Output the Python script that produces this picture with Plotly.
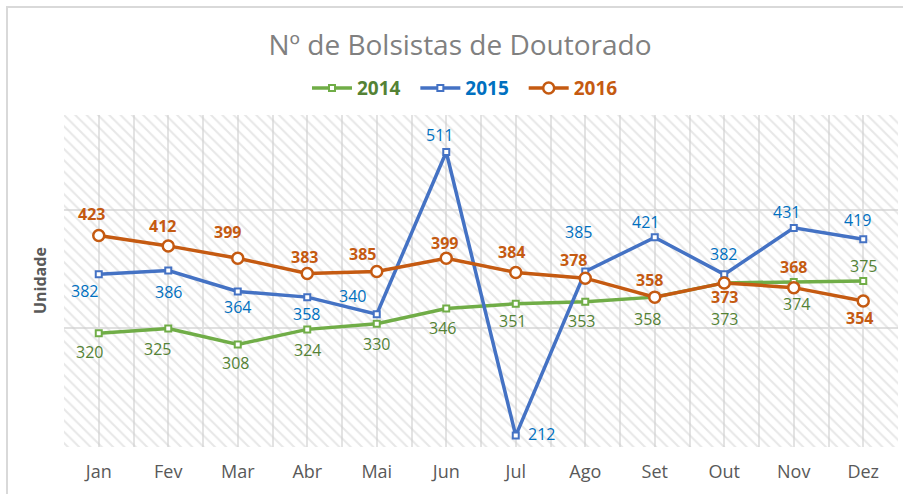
import plotly.graph_objects as go

# Monthly number of doctoral scholarship holders
months = ["Jan", "Fev", "Mar", "Abr", "Mai", "Jun", "Jul", "Ago", "Set", "Out", "Nov", "Dez"]
v2014 = [320, 325, 308, 324, 330, 346, 351, 353, 358, 373, 374, 375]
v2015 = [382, 386, 364, 358, 340, 511, 212, 385, 421, 382, 431, 419]
v2016 = [423, 412, 399, 383, 385, 399, 384, 378, 358, 373, 368, 354]

# label offsets in pixels (dx right, dy down) for each point
off2014 = [(-9, 19), (-11, 21), (-2, 18), (0, 21), (0, 20), (-4, 19),
           (-3, 17), (-4, 19), (-7, 22), (0, 36), (3, 22), (0, -15)]
off2015 = [(-14, 17), (0, 21), (0, 16), (-1, 17), (-24, -18), (-7, -17),
           (26, -2), (-7, -40), (-9, -15), (-1, -20), (-7, -16), (-6, -19)]
off2016 = [(-7, -21), (-6, -20), (-10, -26), (-3, -16), (-14, -18), (-2, -15),
           (-4, -20), (-12, -18), (-5, -17), (0, 14), (0, -21), (-4, 17)]

FONT = "Open Sans"
X_RANGE = [-0.5, len(months) - 0.5]
Y_RANGE = [200, 550]
xs = list(range(len(months)))

fig = go.Figure()

# hatched plot-area background
fig.add_trace(go.Scatter(
    x=[X_RANGE[0], X_RANGE[1], X_RANGE[1], X_RANGE[0], X_RANGE[0]],
    y=[Y_RANGE[0], Y_RANGE[0], Y_RANGE[1], Y_RANGE[1], Y_RANGE[0]],
    mode="none", fill="toself", fillcolor="rgba(0,0,0,0)",
    fillpattern=dict(shape="\\", size=8, solidity=0.25,
                     fgcolor="#cfcfcf", bgcolor="rgba(0,0,0,0)", fillmode="overlay"),
    hoverinfo="skip", showlegend=False,
))

series = [
    ("2014", v2014, "#70ad47", "#548235", "square", 6, False, off2014),
    ("2015", v2015, "#4472c4", "#0070c0", "square", 6, False, off2015),
    ("2016", v2016, "#c55a11", "#c55a11", "circle", 11, True, off2016),
]

annotations = []
for name, vals, lc, tc, sym, msize, bold, offs in series:
    label = f"<b>{name}</b>&nbsp;&nbsp;"
    fig.add_trace(go.Scatter(
        x=xs, y=vals, mode="lines+markers",
        name=f"<span style='color:{tc}'>{label}</span>",
        line=dict(color=lc, width=3.5),
        marker=dict(symbol=sym, size=msize, color="white",
                    line=dict(color=lc, width=2.5 if sym == "circle" else 2)),
    ))
    for i, v in enumerate(vals):
        dx, dy = offs[i]
        annotations.append(dict(
            x=i, y=v, xref="x", yref="y", showarrow=False,
            text=f"<b>{v}</b>" if bold else str(v),
            xshift=dx, yshift=-dy,
            font=dict(family=FONT, size=16, color=tc),
        ))

# y-axis title
annotations.append(dict(
    x=(40 - 64) / 834, y=0.5, xref="paper", yref="paper", showarrow=False,
    xanchor="center", yanchor="middle",
    text="<b>Unidade</b>", textangle=-90,
    font=dict(family=FONT, size=16, color="#595959"),
))

fig.update_layout(
    width=903, height=494,
    margin=dict(l=64, r=5, t=115, b=47),
    paper_bgcolor="white", plot_bgcolor="white",
    title=dict(text="Nº de Bolsistas de Doutorado", x=(460 - 0) / 903, xanchor="center",
               xref="container",
               y=1 - 45 / 494, yanchor="middle", yref="container",
               font=dict(family=FONT, size=28, color="#808080")),
    legend=dict(orientation="h", x=(470 - 64) / 834, xanchor="center", y=1.081,
                yanchor="middle",
                font=dict(family=FONT, size=19), itemwidth=40, traceorder="normal",
                bgcolor="rgba(0,0,0,0)"),
    annotations=annotations,
    showlegend=True,
    shapes=[dict(type="rect", xref="paper", yref="paper",
                 x0=(7 - 64) / 834, x1=(915 - 64) / 834,
                 y0=(447 - 510) / 332, y1=1 + (115 - 7) / 332,
                 line=dict(color="#d9d9d9", width=2), layer="below")],
)

fig.update_xaxes(
    range=X_RANGE, tickvals=xs, ticktext=months, showline=False, zeroline=False,
    showgrid=True, gridcolor="#e3e3e3", gridwidth=2, ticks="",
    ticklabelstandoff=12,
    minor=dict(tickvals=[i + 0.5 for i in range(-1, len(months))], showgrid=True,
               gridcolor="#e3e3e3", gridwidth=2),
    tickfont=dict(family=FONT, size=18, color="#595959"),
)
fig.update_yaxes(
    range=Y_RANGE, tickvals=[200, 325, 450], showticklabels=False,
    showgrid=True, gridcolor="#e0e0e0", gridwidth=2, zeroline=False, showline=False,
)

fig.write_html("out.html")
